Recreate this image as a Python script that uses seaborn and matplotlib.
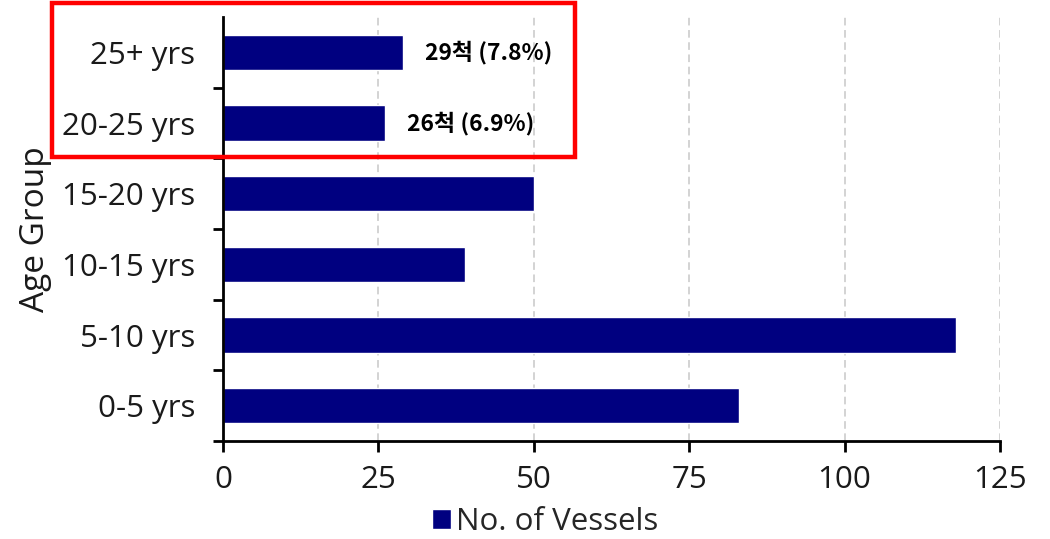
import matplotlib
matplotlib.use("Agg")
import matplotlib.pyplot as plt
from matplotlib.patches import Rectangle
from matplotlib.ticker import FixedLocator
import seaborn as sns
import pandas as pd

# Fleet age distribution
age_groups = ["25+ yrs", "20-25 yrs", "15-20 yrs", "10-15 yrs", "5-10 yrs", "0-5 yrs"]
vessels = [29, 26, 50, 39, 118, 83]
callout_share = ["7.8%", "6.9%"]  # shares for the two oldest groups
x_ticks = [0, 25, 50, 75, 100, 125]

df = pd.DataFrame({"Age Group": age_groups, "No. of Vessels": vessels})

sns.set_theme(style="white")
plt.rcParams["font.family"] = ["Open Sans", "DejaVu Sans"]

fig = plt.figure(figsize=(10.5, 5.39), dpi=100)
ax = fig.add_axes([223 / 1050, 1 - 441 / 539, 777 / 1050, 424 / 539])

sns.barplot(data=df, x="No. of Vessels", y="Age Group", order=age_groups,
            orient="h", color="#000080", saturation=1, width=0.5,
            label="No. of Vessels", ax=ax)

ax.set_xlim(0, 125)
ax.set_ylim(len(age_groups) - 0.5, -0.5)

# vertical dashed grid
ax.set_xticks(x_ticks)
for xv in x_ticks[1:]:
    ax.axvline(xv, color="#c8c8c8", lw=1.1, ls=(0, (5, 3)), zorder=0)

for s in ["top", "right"]:
    ax.spines[s].set_visible(False)
for s in ["left", "bottom"]:
    ax.spines[s].set_color("black")
    ax.spines[s].set_linewidth(2)

ax.tick_params(axis="x", which="major", direction="out", length=8, width=2,
               color="black", pad=9, bottom=True)
ax.tick_params(axis="y", which="major", length=0, pad=20)
ax.yaxis.set_minor_locator(FixedLocator([i + 0.5 for i in range(len(age_groups))]))
ax.tick_params(axis="y", which="minor", direction="out", length=7, width=2,
               color="black", left=True)
for lbl in ax.get_xticklabels() + ax.get_yticklabels():
    lbl.set_color("#1a1a1a")
    lbl.set_fontsize(22.5)

ax.set_xlabel("")
ax.set_ylabel("Age Group", fontsize=24, color="#1a1a1a", labelpad=7)

# value callouts on the two oldest groups
for i, share in enumerate(callout_share):
    ax.annotate(f"{vessels[i]}척 ({share})", xy=(vessels[i], i), xytext=(16, 0),
                textcoords="offset points", va="center", ha="left",
                fontsize=16.5, fontweight="bold", color="black",
                family=["Noto Sans CJK KR", "DejaVu Sans"])

ax.legend(loc="center", bbox_to_anchor=(0.519, 0.032), bbox_transform=fig.transFigure,
          frameon=False, fontsize=22.5, handlelength=0.62, handleheight=0.62,
          handletextpad=0.15, borderaxespad=0, borderpad=0)

# highlight box around the oldest groups
fig.patches.append(Rectangle((52 / 1050, 1 - 157 / 539), 523 / 1050, 154 / 539,
                             transform=fig.transFigure, fill=False,
                             edgecolor="#ff0000", linewidth=3.2))

fig.savefig("out.png", dpi=100)
